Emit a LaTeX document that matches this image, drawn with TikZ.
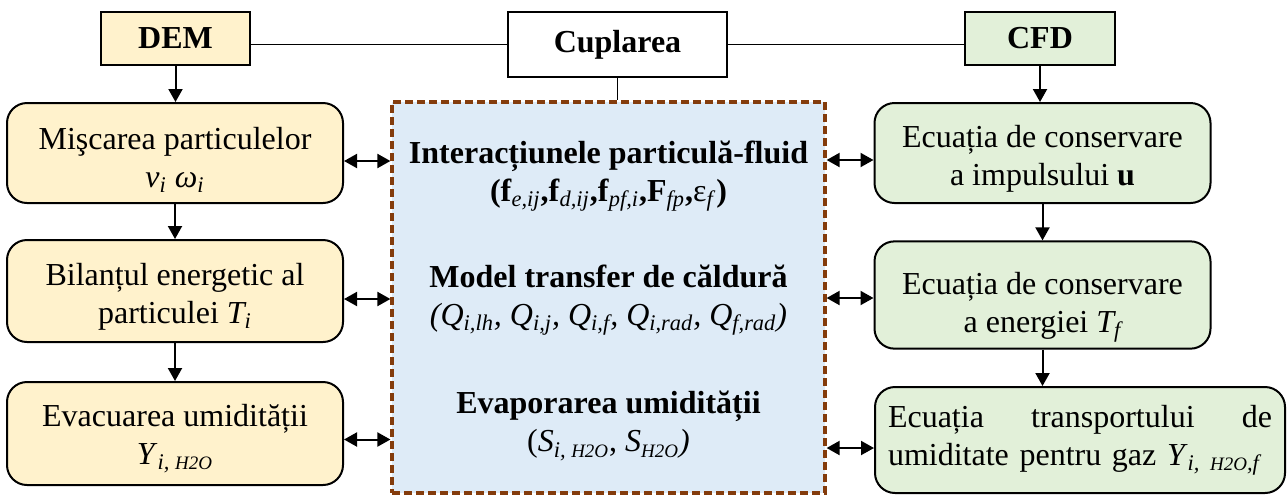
\documentclass[tikz,border=0pt]{standalone}
\usepackage{fontspec}
\setmainfont{Liberation Serif}
\usepackage{tikz}
\usetikzlibrary{positioning, arrows.meta, calc}

\definecolor{demfill}{HTML}{FFF2CC}
\definecolor{cfdfill}{HTML}{E2F0D9}
\definecolor{corefill}{HTML}{DEEBF7}
\definecolor{coreline}{HTML}{843C0C}
\newcommand{\ssub}[1]{\textsubscript{\textit{#1}}}
\newcommand{\hto}{{\fontsize{9.5}{9.5}\selectfont H2O}}

\begin{document}
\begin{tikzpicture}[
    x=0.5pt, y=-0.5pt,
    every node/.style={font=\fontsize{16}{19}\selectfont},
    head/.style={
        rectangle, draw=black, line width=1pt,
        minimum height=26.5pt, inner sep=2pt,
        font=\fontsize{16}{19}\selectfont\bfseries
    },
    block/.style={
        rectangle, rounded corners=10pt, draw=black, line width=1pt,
        minimum width=168pt, minimum height=50pt, align=center
    },
    demblock/.style={block, fill=demfill},
    cfdblock/.style={block, fill=cfdfill},
    core/.style={
        rectangle, draw=coreline, fill=corefill, line width=1.6pt,
        dash pattern=on 4pt off 2pt,
        minimum width=216.5pt, minimum height=195.5pt
    },
    coretext/.style={align=center, inner sep=0pt},
    arrow/.style={-{Triangle[length=6.5pt, width=7pt]}, line width=1pt},
    dbl/.style={{Triangle[length=6.5pt, width=7pt]}-{Triangle[length=6.5pt, width=7pt]}, line width=1pt},
    link/.style={line width=0.75pt}
]
\useasboundingbox (0,0) rectangle (1288,494);

% top row
\node[head, fill=demfill, minimum width=74.5pt] (dem) at (175.5,38.5) {DEM};
\node[head, fill=white, minimum width=109.5pt, minimum height=32.5pt] (cup) at (617.5,44.5) {Cuplarea};
\node[head, fill=cfdfill, minimum width=75pt] (cfd) at (1040,38.5) {CFD};

% coupling box
\node[core] (core) at (608.5,297.5) {};
\node[coretext] (inter) at (608.5,176) {\textbf{Interacțiunele particulă-fluid}\\
    \textbf{(f}\ssub{e,ij}\textbf{,f}\ssub{d,ij}\textbf{,f}\ssub{pf,i}\textbf{,F}\ssub{fp}\textbf{,}ε\ssub{f}\textbf{)}};
\node[coretext] (heat) at (608.5,300) {\textbf{Model transfer de căldură}\\
    \textit{(Q\textsubscript{i,lh}, Q\textsubscript{i,j}, Q\textsubscript{i,f}, Q\textsubscript{i,rad}, Q\textsubscript{f,rad})}};
\node[coretext] (evap) at (608.5,426) {\textbf{Evaporarea umidității}\\
    (\textit{S}\ssub{i, \hto}, \textit{S}\ssub{\hto}\textit{)}};

% Left: DEM side
\node[demblock] (lone) at (175,153) {\rule{0pt}{18pt}Mişcarea particulelor\\ \textit{ν\textsubscript{i} ω\textsubscript{i}}};
\node[demblock, minimum height=51pt] (ltwo) at (175,291) {\rule{0pt}{17pt}Bilanțul energetic al\\ particulei \textit{T\textsubscript{i}}};
\node[demblock, minimum height=51.5pt] (lthree) at (175,433.5) {\rule{0pt}{16pt}Evacuarea umidității\\ \textit{Y}\ssub{i, \hto}};

% Right: CFD side
\node[cfdblock] (rone) at (1042.5,153) {\rule{0pt}{17pt}Ecuația de conservare\\ a impulsului \textbf{u}};
\node[cfdblock, minimum height=51pt] (rtwo) at (1042.5,295) {\rule{0pt}{23pt}Ecuația de conservare\\ a energiei \textit{T\textsubscript{f}}};
\node[cfdblock, minimum width=205pt, minimum height=53pt, text width=192pt, align=left] (rthree) at (1080,440)
    {Ecuația\hfill transportului\hfill de\\ \mbox{umiditate pentru gaz \textit{Y}\ssub{i, \hto,f}}};

% connectors
\draw[link] (dem.east |- cup.west) -- (cup.west);
\draw[link] (cup.east) -- (cup.east -| cfd.west);
\draw[link] (cup.south) -- (cup.south |- core.north);

\draw[arrow] (dem.south) -- (dem.south |- lone.north);
\draw[arrow] (lone) -- (ltwo);
\draw[arrow] (ltwo) -- (lthree);
\draw[arrow] (cfd.south) -- (cfd.south |- rone.north);
\draw[arrow] (rone) -- (rtwo);
\draw[arrow] (rtwo.south) -- (rtwo.south |- rthree.north);

\draw[dbl] ([yshift=-4pt]lone.east) -- ([yshift=-4pt]lone.east -| core.west);
\draw[dbl] ([yshift=-4pt]ltwo.east) -- ([yshift=-4pt]ltwo.east -| core.west);
\draw[dbl] ([yshift=-3pt]lthree.east) -- ([yshift=-3pt]lthree.east -| core.west);
\draw[dbl] ([yshift=-3.5pt]rone.west) -- ([yshift=-3.5pt]rone.west -| core.east);
\draw[dbl] ([yshift=-1.5pt]rtwo.west) -- ([yshift=-1.5pt]rtwo.west -| core.east);
\draw[dbl] ([yshift=-4pt]rthree.west) -- ([yshift=-4pt]rthree.west -| core.east);

\end{tikzpicture}
\end{document}
